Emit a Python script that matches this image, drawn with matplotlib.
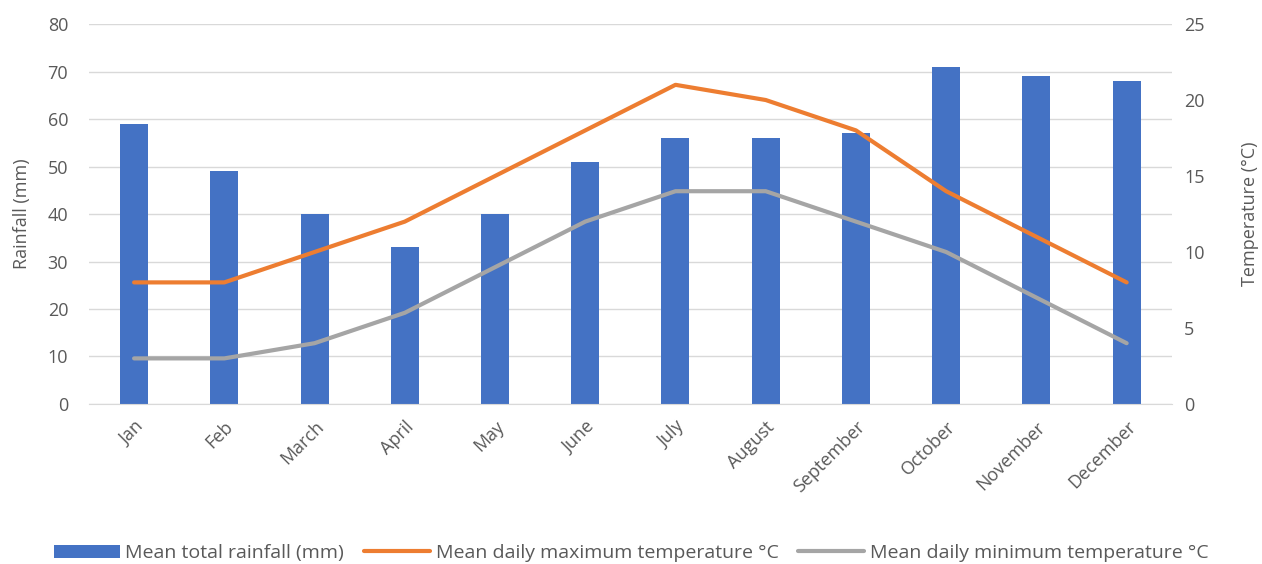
import numpy as np
import matplotlib
matplotlib.use("Agg")
import matplotlib.pyplot as plt

months = ["Jan", "Feb", "March", "April", "May", "June", "July", "August",
          "September", "October", "November", "December"]
rainfall = [59, 49, 40, 33, 40, 51, 56, 56, 57, 71, 69, 68]
max_temp = [8, 8, 10, 12, 15, 18, 21, 20, 18, 14, 11, 8]
min_temp = [3, 3, 4, 6, 9, 12, 14, 14, 12, 10, 7, 4]

BLUE = "#4472C4"
ORANGE = "#ED7D31"
GREY = "#A5A5A5"
TEXT = "#595959"

plt.rcParams["font.family"] = ["Open Sans", "DejaVu Sans"]

fig = plt.figure(figsize=(12.62, 5.64), dpi=100)
ax = fig.add_axes([0.0705, 0.2837, 0.858, 0.6737])
ax2 = ax.twinx()

x = np.arange(len(months))
b = ax.bar(x, rainfall, width=0.31, color=BLUE, zorder=2, label="Mean total rainfall (mm)")
l1, = ax2.plot(x, max_temp, color=ORANGE, lw=3, solid_joinstyle="round",
               solid_capstyle="round", label="Mean daily maximum temperature °C")
l2, = ax2.plot(x, min_temp, color=GREY, lw=3, solid_joinstyle="round",
               solid_capstyle="round", label="Mean daily minimum temperature °C")

ax.set_xlim(-0.5, len(months) - 0.5)
ax.set_ylim(0, 80)
ax.set_yticks(range(0, 81, 10))
ax2.set_ylim(0, 25)
ax2.set_yticks(range(0, 26, 5))

ax.yaxis.grid(True, color="#D9D9D9", lw=1)
ax.set_axisbelow(True)
for a in (ax, ax2):
    for s in a.spines.values():
        s.set_visible(False)
    a.tick_params(length=0, colors=TEXT, labelsize=13)
ax.spines["bottom"].set_visible(True)
ax.spines["bottom"].set_color("#D9D9D9")

ax.set_xticks(x)
ax.set_xticklabels(months, rotation=45, ha="right", rotation_mode="anchor")
ax.tick_params(axis="x", pad=10)
ax.tick_params(axis="y", pad=15)
ax2.tick_params(axis="y", pad=9)

ax.set_ylabel("Rainfall (mm)", color=TEXT, fontsize=13, labelpad=12)
ax2.set_ylabel("Temperature (°C)", color=TEXT, fontsize=13, labelpad=26)

leg = fig.legend(handles=[b, l1, l2], loc="lower center", bbox_to_anchor=(0.5, -0.028),
                 ncol=3, frameon=False, fontsize=14, handlelength=3.4,
                 columnspacing=1.0, handletextpad=0.3)
for t in leg.get_texts():
    t.set_color(TEXT)

fig.savefig("out.png", dpi=100)
